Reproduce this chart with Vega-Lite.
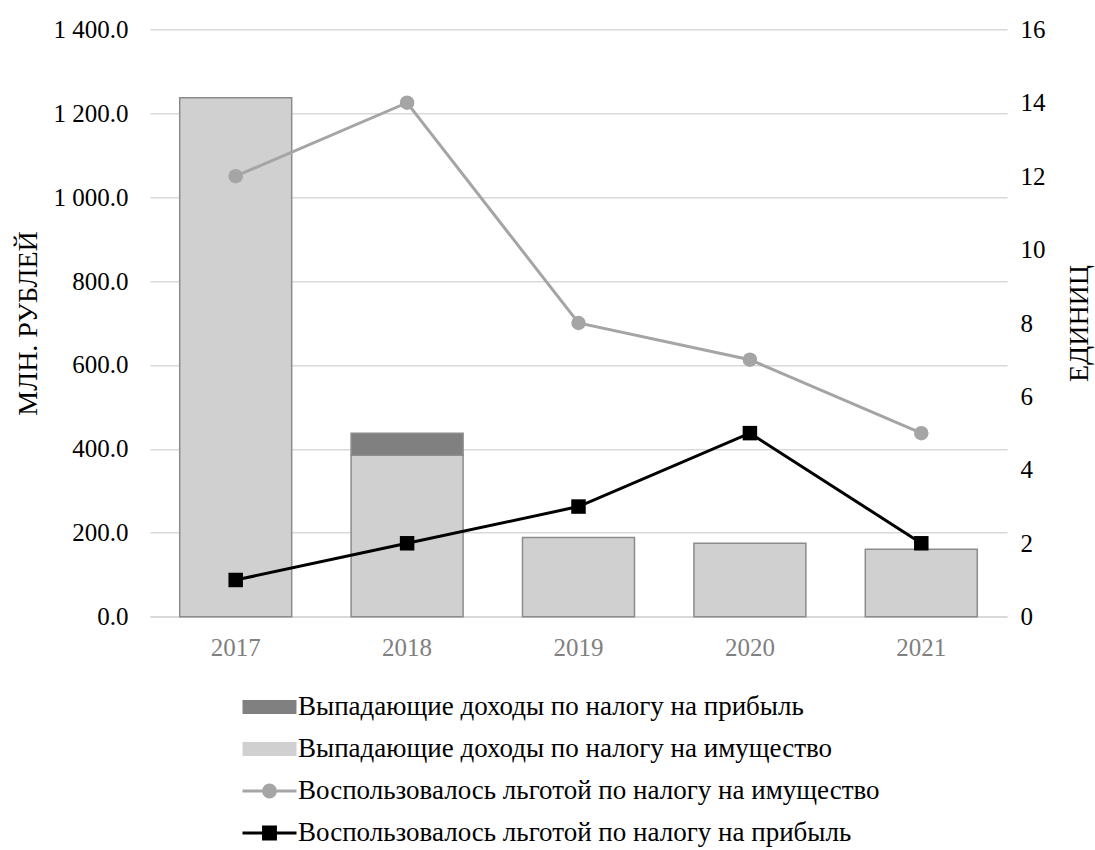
{
  "$schema": "https://vega.github.io/schema/vega-lite/v6.json",
  "width": 857,
  "height": 587.4,
  "autosize": {"type": "none"},
  "padding": {"left": 150, "top": 29.3, "right": 88, "bottom": 233.3},
  "background": "white",
  "config": {
    "font": "Liberation Serif",
    "view": {"stroke": null},
    "style": {
      "guide-label": {"font": "Liberation Serif"},
      "guide-title": {"font": "Liberation Serif"}
    },
    "axis": {
      "labelFont": "Liberation Serif",
      "titleFont": "Liberation Serif",
      "labelFontSize": 25,
      "titleFontSize": 28,
      "titleFontWeight": "normal",
      "labelColor": "#000000",
      "titleColor": "#000000",
      "ticks": false,
      "domain": false,
      "grid": false
    },
    "legend": {
      "labelFont": "Liberation Serif",
      "labelFontSize": 27,
      "labelColor": "#000000",
      "labelLimit": 0,
      "padding": 0,
      "symbolOffset": 0,
      "labelOffset": 0,
      "rowPadding": -0.5,
      "symbolStrokeWidth": 3
    }
  },
  "datasets": {
    "losses": [
      {"year": "2017", "series": "Выпадающие доходы по налогу на имущество", "value": 1237},
      {"year": "2018", "series": "Выпадающие доходы по налогу на имущество", "value": 385},
      {"year": "2018", "series": "Выпадающие доходы по налогу на прибыль", "value": 52},
      {"year": "2019", "series": "Выпадающие доходы по налогу на имущество", "value": 189},
      {"year": "2020", "series": "Выпадающие доходы по налогу на имущество", "value": 175},
      {"year": "2021", "series": "Выпадающие доходы по налогу на имущество", "value": 161}
    ],
    "users": [
      {"year": "2017", "series": "Воспользовалось льготой по налогу на имущество", "count": 12},
      {"year": "2018", "series": "Воспользовалось льготой по налогу на имущество", "count": 14},
      {"year": "2019", "series": "Воспользовалось льготой по налогу на имущество", "count": 8},
      {"year": "2020", "series": "Воспользовалось льготой по налогу на имущество", "count": 7},
      {"year": "2021", "series": "Воспользовалось льготой по налогу на имущество", "count": 5},
      {"year": "2017", "series": "Воспользовалось льготой по налогу на прибыль", "count": 1},
      {"year": "2018", "series": "Воспользовалось льготой по налогу на прибыль", "count": 2},
      {"year": "2019", "series": "Воспользовалось льготой по налогу на прибыль", "count": 3},
      {"year": "2020", "series": "Воспользовалось льготой по налогу на прибыль", "count": 5},
      {"year": "2021", "series": "Воспользовалось льготой по налогу на прибыль", "count": 2}
    ]
  },
  "encoding": {
    "x": {
      "field": "year",
      "type": "nominal",
      "scale": {"paddingInner": 0.3466, "paddingOuter": 0.1733},
      "axis": {
        "title": null,
        "labelAngle": 0,
        "labelFont": "Liberation Serif",
        "labelFontSize": 25,
        "labelColor": "#808080",
        "labelPadding": 19,
        "domain": true,
        "domainColor": "#d9d9d9",
        "domainWidth": 1.5
      }
    }
  },
  "layer": [
    {
      "data": {"name": "losses"},
      "mark": {"type": "bar", "stroke": "#8c8c8c", "strokeWidth": 1.5},
      "encoding": {
        "y": {
          "field": "value",
          "type": "quantitative",
          "stack": "zero",
          "scale": {"domain": [0, 1400], "nice": false},
          "axis": {
            "title": "МЛН. РУБЛЕЙ",
            "values": [0, 200, 400, 600, 800, 1000, 1200, 1400],
            "labelExpr": "replace(format(datum.value, ',.1f'), ',', ' ')",
            "labelFont": "Liberation Serif",
            "titleFont": "Liberation Serif",
            "labelPadding": 22,
            "titlePadding": 11,
            "grid": true,
            "gridColor": "#d9d9d9",
            "gridWidth": 1.5
          }
        },
        "color": {
          "field": "series",
          "type": "nominal",
          "scale": {
            "domain": [
              "Выпадающие доходы по налогу на прибыль",
              "Выпадающие доходы по налогу на имущество",
              "Воспользовалось льготой по налогу на имущество",
              "Воспользовалось льготой по налогу на прибыль"
            ],
            "range": ["#808080", "#d0d0d0", "#a5a5a5", "#000000"]
          },
          "legend": {
            "title": null,
            "orient": "none",
            "legendX": 91,
            "legendY": 649.2,
            "direction": "vertical",
            "symbolSize": 2916,
            "symbolType": {"expr": "indexof(['Выпадающие доходы по налогу на прибыль','Выпадающие доходы по налогу на имущество'], datum.value) >= 0 ? 'M-0.944,-0.204H0.944V0.204H-0.944Z' : datum.value === 'Воспользовалось льготой по налогу на имущество' ? 'M-1,0H1M-0.22,0A0.22,0.22,0,1,0,0.22,0A0.22,0.22,0,1,0,-0.22,0Z' : 'M-1,0H1M-0.22,-0.22H0.22V0.22H-0.22Z'"},
            "encode": {
              "symbols": {
                "update": {
                  "shape": {"signal": "indexof(['Выпадающие доходы по налогу на прибыль','Выпадающие доходы по налогу на имущество'], datum.value) >= 0 ? 'M-0.944,-0.204H0.944V0.204H-0.944Z' : datum.value === 'Воспользовалось льготой по налогу на имущество' ? 'M-1,0H1M-0.22,0A0.22,0.22,0,1,0,0.22,0A0.22,0.22,0,1,0,-0.22,0Z' : 'M-1,0H1M-0.22,-0.22H0.22V0.22H-0.22Z'"},
                  "stroke": {"signal": "datum.value === 'Выпадающие доходы по налогу на имущество' ? '#8c8c8c' : scale('color', datum.value)"},
                  "fill": {"signal": "scale('color', datum.value)"},
                  "opacity": {"value": 1}
                }
              }
            }
          }
        },
        "order": {"field": "series", "sort": "ascending"}
      }
    },
    {
      "data": {"name": "users"},
      "encoding": {
        "y": {
          "field": "count",
          "type": "quantitative",
          "scale": {"domain": [0, 16], "nice": false},
          "axis": {
            "orient": "right",
            "title": "ЕДИНИЦ",
            "values": [0, 2, 4, 6, 8, 10, 12, 14, 16],
            "format": "d",
            "labelFont": "Liberation Serif",
            "titleFont": "Liberation Serif",
            "labelPadding": 13,
            "titleAngle": 270,
            "titleBaseline": "top",
            "titlePadding": 20
          }
        },
        "color": {"field": "series", "type": "nominal"}
      },
      "layer": [
        {"mark": {"type": "line", "strokeWidth": 3}},
        {
          "mark": {"type": "point", "filled": true, "opacity": 1, "size": 210},
          "encoding": {
            "shape": {
              "field": "series",
              "type": "nominal",
              "scale": {
                "domain": [
                  "Воспользовалось льготой по налогу на имущество",
                  "Воспользовалось льготой по налогу на прибыль"
                ],
                "range": ["circle", "square"]
              },
              "legend": null
            }
          }
        }
      ]
    }
  ],
  "resolve": {"scale": {"y": "independent"}}
}
